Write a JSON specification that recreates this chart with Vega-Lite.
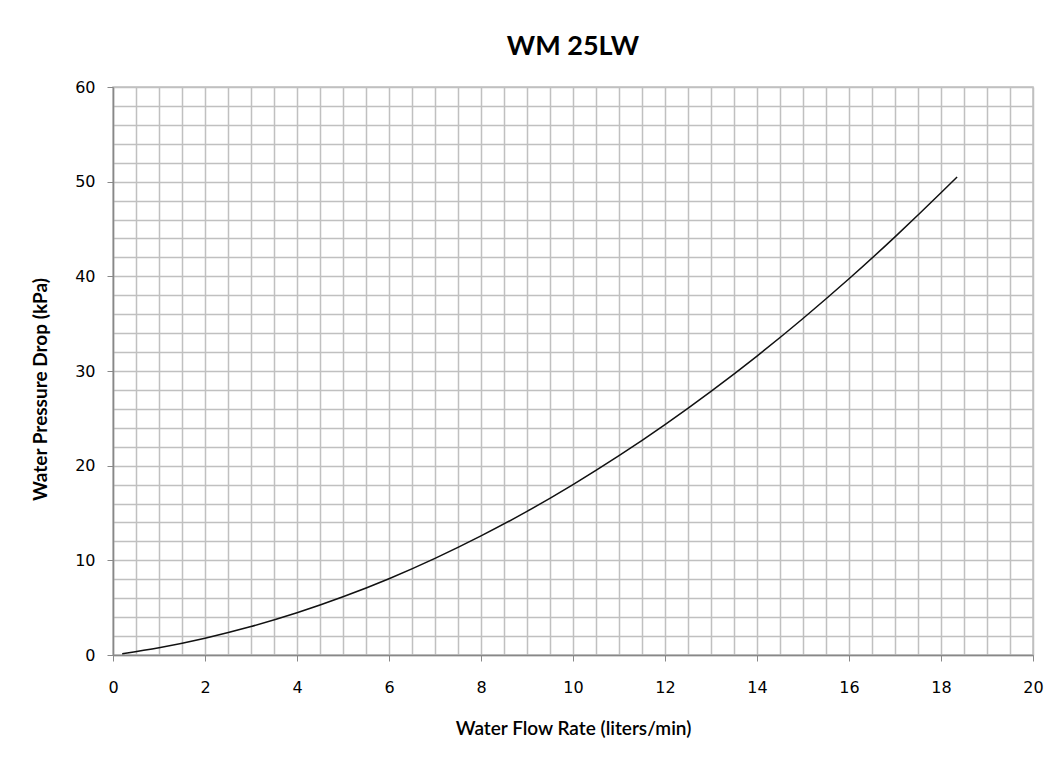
{
  "$schema": "https://vega.github.io/schema/vega-lite/v6.json",
  "width": 920,
  "height": 568,
  "autosize": {"type": "none"},
  "padding": {"left": 113, "top": 87, "right": 31, "bottom": 107},
  "background": "white",
  "title": {
    "text": "WM 25LW",
    "font": "Lato",
    "fontSize": 27,
    "fontWeight": "bold",
    "color": "#000000",
    "offset": 18,
    "anchor": "middle"
  },
  "data": {
    "values": [
      {"flow": 0.2, "drop": 0.14},
      {"flow": 1, "drop": 0.77},
      {"flow": 2, "drop": 1.78},
      {"flow": 3, "drop": 3.01},
      {"flow": 4, "drop": 4.46},
      {"flow": 5, "drop": 6.15},
      {"flow": 6, "drop": 8.06},
      {"flow": 7, "drop": 10.21},
      {"flow": 8, "drop": 12.58},
      {"flow": 9, "drop": 15.17},
      {"flow": 10, "drop": 18.0},
      {"flow": 11, "drop": 21.05},
      {"flow": 12, "drop": 24.34},
      {"flow": 13, "drop": 27.85},
      {"flow": 14, "drop": 31.58},
      {"flow": 15, "drop": 35.55},
      {"flow": 16, "drop": 39.74},
      {"flow": 17, "drop": 44.17},
      {"flow": 18, "drop": 48.82},
      {"flow": 18.35, "drop": 50.5}
    ]
  },
  "mark": {"type": "line", "color": "#111111", "strokeWidth": 1.5, "interpolate": "monotone"},
  "encoding": {
    "x": {
      "field": "flow",
      "type": "quantitative",
      "scale": {"domain": [0, 20], "nice": false, "zero": true},
      "axis": {
        "title": "Water Flow Rate  (liters/min)",
        "values": [0,0.5,1,1.5,2,2.5,3,3.5,4,4.5,5,5.5,6,6.5,7,7.5,8,8.5,9,9.5,10,10.5,11,11.5,12,12.5,13,13.5,14,14.5,15,15.5,16,16.5,17,17.5,18,18.5,19,19.5,20],
        "labelExpr": "datum.value % 2 === 0 ? format(datum.value, 'd') : ''",
        "tickOpacity": {"condition": {"test": "datum.value % 2 === 0", "value": 1}, "value": 0},
        "tickSize": 6,
        "tickColor": "#888888",
        "domainColor": "#888888",
        "domainWidth": 1.5,
        "grid": true,
        "gridColor": "#c0c0c0",
        "gridWidth": 1.5,
        "labelFont": "DejaVu Sans",
        "labelFontSize": 16,
        "labelColor": "#000000",
        "labelPadding": 18,
        "labelFlush": false,
        "titleFont": "Lato",
        "titleFontSize": 19,
        "titleFontWeight": 600,
        "titleColor": "#000000",
        "titlePadding": 24
      }
    },
    "y": {
      "field": "drop",
      "type": "quantitative",
      "scale": {"domain": [0, 60], "nice": false},
      "axis": {
        "title": "Water Pressure Drop (kPa)",
        "titleY": 302,
        "values": [0,2,4,6,8,10,12,14,16,18,20,22,24,26,28,30,32,34,36,38,40,42,44,46,48,50,52,54,56,58,60],
        "labelExpr": "datum.value % 10 === 0 ? format(datum.value, 'd') : ''",
        "tickOpacity": {"condition": {"test": "datum.value % 10 === 0", "value": 1}, "value": 0},
        "tickSize": 6,
        "tickColor": "#888888",
        "domainColor": "#888888",
        "domainWidth": 1.5,
        "grid": true,
        "gridColor": "#c0c0c0",
        "gridWidth": 1.5,
        "labelFont": "DejaVu Sans",
        "labelFontSize": 16,
        "labelColor": "#000000",
        "labelPadding": 12,
        "labelFlush": false,
        "titleFont": "Lato",
        "titleFontSize": 19,
        "titleFontWeight": "bold",
        "titleColor": "#000000",
        "titlePadding": 24
      }
    }
  },
  "config": {
    "view": {"stroke": "#c0c0c0", "strokeWidth": 1.5}
  }
}
